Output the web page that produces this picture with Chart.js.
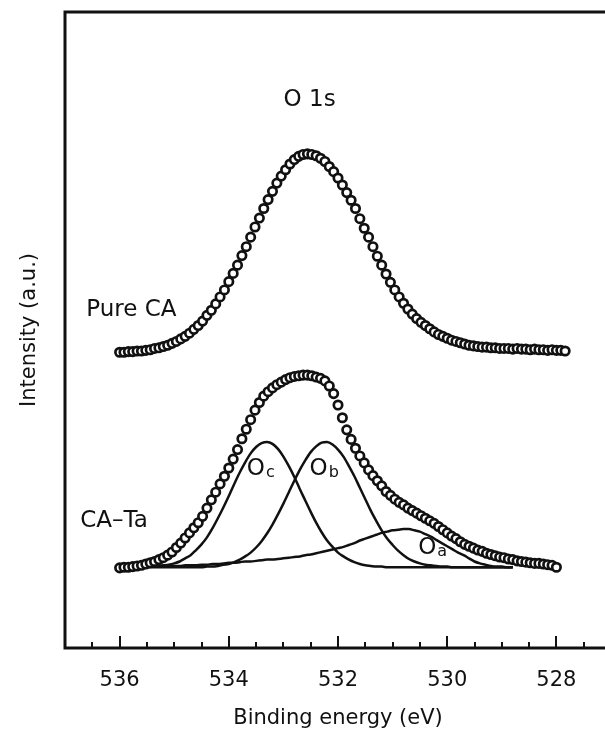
<!DOCTYPE html>
<html>
<head>
<meta charset="utf-8">
<script src="https://cdn.jsdelivr.net/npm/chart.js@4/dist/chart.umd.min.js"></script>
<style>
  html, body { margin: 0; padding: 0; overflow: hidden; background: #fff; }
  #xps { position: absolute; left: 0; top: 0; }
</style>
</head>
<body>
<canvas id="xps" width="625" height="734"></canvas>
<script>
// binding energy of the measured points (eV)
var energy = [
  536.00,535.92,535.84,535.76,535.68,535.60,535.52,535.44,535.36,535.28,
  535.20,535.12,535.04,534.96,534.88,534.80,534.72,534.64,534.56,534.48,
  534.40,534.32,534.24,534.16,534.08,534.00,533.92,533.84,533.76,533.68,
  533.60,533.52,533.44,533.36,533.28,533.20,533.12,533.04,532.96,532.88,
  532.80,532.72,532.64,532.56,532.48,532.40,532.32,532.24,532.16,532.08,
  532.00,531.92,531.84,531.76,531.68,531.60,531.52,531.44,531.36,531.28,
  531.20,531.12,531.04,530.96,530.88,530.80,530.72,530.64,530.56,530.48,
  530.40,530.32,530.24,530.16,530.08,530.00,529.92,529.84,529.76,529.68,
  529.60,529.52,529.44,529.36,529.28,529.20,529.12,529.04,528.96,528.88,
  528.80,528.72,528.64,528.56,528.48,528.40,528.32,528.24,528.16,528.08,
  528.00,527.92,527.84
];

var pureCA = [
  46.5,46.5,46.6,46.6,46.7,46.7,46.8,46.9,47.1,47.2,
  47.4,47.6,47.9,48.2,48.6,49.0,49.5,50.1,50.7,51.4,
  52.3,53.1,54.1,55.2,56.3,57.6,58.9,60.2,61.7,63.1,
  64.6,66.2,67.6,69.1,70.5,71.8,73.1,74.2,75.2,76.1,
  76.8,77.3,77.6,77.7,77.6,77.4,77.0,76.5,75.7,74.9,
  73.9,72.8,71.6,70.4,69.1,67.5,66.0,64.6,63.1,61.6,
  60.2,58.8,57.5,56.3,55.2,54.2,53.3,52.5,51.8,51.2,
  50.7,50.2,49.7,49.3,49.0,48.7,48.4,48.2,48.0,47.8,
  47.6,47.5,47.4,47.3,47.3,47.2,47.2,47.1,47.1,47.1,
  47.0,47.1,47.0,47.0,46.9,47.0,46.9,46.9,46.8,46.9,
  46.8,46.8,46.7
];

var caTa = [
  12.6,12.7,12.7,12.8,12.9,13.0,13.2,13.4,13.6,13.9,
  14.2,14.6,15.1,15.8,16.5,17.3,18.1,18.9,19.7,20.7,
  22.0,23.3,24.5,25.8,27.0,28.3,29.7,31.2,32.9,34.4,
  35.9,37.4,38.6,39.6,40.3,40.9,41.4,41.8,42.2,42.5,
  42.7,42.8,42.9,42.9,42.8,42.6,42.4,42.0,41.2,40.0,
  38.2,36.2,34.3,32.8,31.4,30.2,29.1,28.0,27.1,26.3,
  25.5,24.6,24.0,23.4,22.9,22.5,22.0,21.6,21.2,20.8,
  20.4,20.0,19.6,19.1,18.6,18.1,17.6,17.2,16.7,16.3,
  16.0,15.7,15.4,15.2,14.9,14.7,14.5,14.3,14.2,14.0,
  13.9,13.7,13.6,13.5,13.4,13.3,13.3,13.2,13.1,13.0,
  12.7
];

// energy grid of the fitted components
var fitEnergy = [
  535.5,535.4,535.3,535.2,535.1,535.0,534.9,534.8,534.7,534.6,
  534.5,534.4,534.3,534.2,534.1,534.0,533.9,533.8,533.7,533.6,
  533.5,533.4,533.3,533.2,533.1,533.0,532.9,532.8,532.7,532.6,
  532.5,532.4,532.3,532.2,532.1,532.0,531.9,531.8,531.7,531.6,
  531.5,531.4,531.3,531.2,531.1,531.0,530.9,530.8,530.7,530.6,
  530.5,530.4,530.3,530.2,530.1,530.0,529.9,529.8,529.7,529.6,
  529.5,529.4,529.3,529.2,529.1,529.0,528.9,528.8
];

var fitOc = [
  12.8,12.8,12.9,13.0,13.1,13.3,13.6,14.1,14.6,15.4,
  16.3,17.4,18.8,20.4,22.1,23.9,25.8,27.6,29.2,30.6,
  31.6,32.2,32.4,32.1,31.3,30.1,28.6,26.9,25.0,23.2,
  21.4,19.7,18.2,16.9,15.9,15.0,14.4,13.9,13.5,13.2,
  13.0,12.9,12.8,12.8,12.7,12.7,12.7,12.7,12.7,12.7,
  12.7,12.7,12.7,12.7,12.7,12.7,12.7,12.7,12.7,12.7,
  12.7,12.7,12.7,12.7,12.7,12.7,12.7,12.7
];

var fitOb = [
  12.7,12.7,12.7,12.7,12.7,12.7,12.7,12.7,12.7,12.7,
  12.7,12.8,12.8,12.9,13.1,13.2,13.5,13.9,14.4,15.0,
  15.8,16.8,18.0,19.4,21.0,22.7,24.5,26.3,28.0,29.5,
  30.8,31.7,32.3,32.4,32.0,31.2,30.1,28.6,27.0,25.2,
  23.4,21.6,20.0,18.5,17.2,16.2,15.3,14.6,14.0,13.6,
  13.3,13.1,13.0,12.9,12.8,12.8,12.7,12.7,12.7,12.7,
  12.7,12.7,12.7,12.7,12.7,12.7,12.7,12.7
];

var fitOa = [
  12.8,12.8,12.8,12.9,12.9,12.9,12.9,13.0,13.0,13.0,
  13.1,13.1,13.2,13.2,13.3,13.4,13.4,13.5,13.6,13.6,
  13.7,13.8,13.9,13.9,14.0,14.1,14.2,14.3,14.4,14.6,
  14.7,14.9,15.1,15.3,15.5,15.7,15.9,16.2,16.5,16.9,
  17.2,17.5,17.8,18.1,18.3,18.5,18.6,18.7,18.7,18.5,
  18.3,17.9,17.5,17.0,16.5,16.0,15.5,15.0,14.6,14.1,
  13.6,13.3,13.1,12.9,12.8,12.8,12.7,12.7
];

var majorTicks = [536, 534, 532, 530, 528];
var minorTicks = [536.5, 535.5, 535, 534.5, 533.5, 533, 532.5, 531.5, 531, 530.5, 529.5, 529, 528.5, 527.5];

var ink = '#111';

function pairs(xs, ys) {
  return ys.map(function (v, i) { return { x: xs[i], y: v }; });
}

// text placed in data coordinates
var notes = [
  { text: 'O 1s', x: 532.52, y: 86.2, align: 'center' },
  { text: 'Pure CA', x: 536.61, y: 53.1, align: 'left' },
  { text: 'CA\u2013Ta', x: 536.72, y: 20.0, align: 'left' },
  { text: 'O', sub: 'c', x: 533.67, y: 28.1, align: 'left' },
  { text: 'O', sub: 'b', x: 532.52, y: 28.1, align: 'left' },
  { text: 'O', sub: 'a', x: 530.53, y: 15.7, align: 'left' }
];

var framePlugin = {
  id: 'frame',
  beforeDatasetsDraw: function (chart) {
    var ctx = chart.ctx, a = chart.chartArea, xs = chart.scales.x;
    ctx.save();
    ctx.strokeStyle = ink;
    ctx.lineWidth = 3;
    ctx.strokeRect(a.left, a.top, a.right - a.left, a.bottom - a.top);
    // ticks pointing into the plot
    ctx.lineWidth = 2;
    ctx.beginPath();
    majorTicks.forEach(function (v) {
      var px = Math.round(xs.getPixelForValue(v));
      ctx.moveTo(px, a.bottom);
      ctx.lineTo(px, a.bottom - 12);
    });
    minorTicks.forEach(function (v) {
      var px = Math.round(xs.getPixelForValue(v));
      ctx.moveTo(px, a.bottom);
      ctx.lineTo(px, a.bottom - 6);
    });
    ctx.stroke();
    ctx.restore();
  },
  afterDatasetsDraw: function (chart) {
    var ctx = chart.ctx, xs = chart.scales.x, ys = chart.scales.y;
    ctx.save();
    ctx.fillStyle = ink;
    ctx.textBaseline = 'middle';
    notes.forEach(function (n) {
      var px = xs.getPixelForValue(n.x), py = ys.getPixelForValue(n.y);
      ctx.font = '23px "DejaVu Sans"';
      ctx.textAlign = n.align;
      ctx.fillText(n.text, px, py);
      if (n.sub) {
        var w = ctx.measureText(n.text).width;
        ctx.font = '16px "DejaVu Sans"';
        ctx.textAlign = 'left';
        ctx.fillText(n.sub, px + w + 1, py + 4);
      }
    });
    ctx.restore();
  }
};

Chart.defaults.font.family = '"DejaVu Sans", sans-serif';
Chart.defaults.color = ink;

var dotStyle = {
  showLine: false,
  pointRadius: 4.2,
  pointBorderWidth: 2.7,
  pointBorderColor: ink,
  pointBackgroundColor: '#fff'
};

var lineStyle = {
  borderColor: ink,
  borderWidth: 2.5,
  pointRadius: 0,
  cubicInterpolationMode: 'monotone'
};

var chart = new Chart(document.getElementById('xps').getContext('2d'), {
  type: 'line',
  data: {
    datasets: [
      Object.assign({ label: 'Pure CA', data: pairs(energy, pureCA) }, dotStyle),
      Object.assign({ label: 'CA-Ta', data: pairs(energy, caTa) }, dotStyle),
      Object.assign({ label: 'Oc', data: pairs(fitEnergy, fitOc) }, lineStyle),
      Object.assign({ label: 'Ob', data: pairs(fitEnergy, fitOb) }, lineStyle),
      Object.assign({ label: 'Oa', data: pairs(fitEnergy, fitOa) }, lineStyle)
    ]
  },
  options: {
    responsive: false,
    animation: false,
    layout: { padding: { top: 12, right: 14, left: 0, bottom: 0 } },
    plugins: {
      legend: { display: false },
      tooltip: { enabled: false }
    },
    scales: {
      x: {
        type: 'linear',
        reverse: true,
        min: 527,
        max: 537,
        grid: { display: false, drawTicks: false },
        border: { display: false },
        afterBuildTicks: function (s) {
          s.ticks = majorTicks.map(function (v) { return { value: v }; });
        },
        afterFit: function (s) { s.height = 86; },
        ticks: {
          padding: 20,
          font: { size: 21 },
          color: ink,
          callback: function (v) { return String(v); }
        },
        title: {
          display: true,
          text: 'Binding energy (eV)',
          font: { size: 21 },
          color: ink,
          padding: { top: 0, bottom: 3 }
        }
      },
      y: {
        min: 0,
        max: 100,
        grid: { display: false, drawTicks: false },
        border: { display: false },
        ticks: { display: false },
        afterFit: function (s) { s.width = 65; },
        title: {
          display: true,
          text: 'Intensity (a.u.)',
          font: { size: 21 },
          color: ink,
          padding: { top: 17, bottom: 0 }
        }
      }
    }
  },
  plugins: [framePlugin]
});
</script>
</body>
</html>
